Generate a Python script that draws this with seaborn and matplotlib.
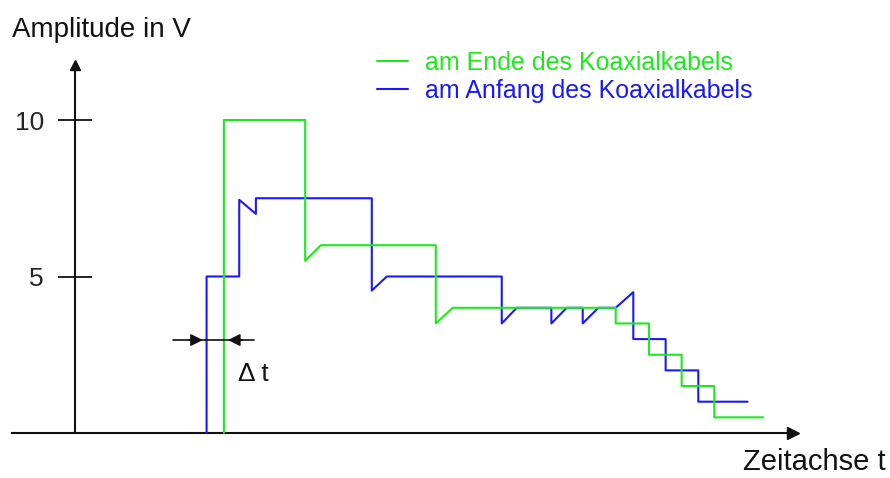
import matplotlib
matplotlib.use("Agg")
import matplotlib.pyplot as plt
import seaborn as sns

# Spannungsverlauf, Zeit in willkuerlichen Einheiten, Spannung in V
t_anfang = [4.03, 4.03, 5.03, 5.03, 5.54, 5.54, 9.09, 9.09, 9.55, 13.07, 13.07, 13.53,
            14.59, 14.59, 15.06, 15.55, 15.55, 16.03, 16.56, 17.10, 17.10, 18.09, 18.09,
            19.09, 19.09, 20.60]
v_anfang = [0.0, 5.0, 5.0, 7.45, 7.0, 7.5, 7.5, 4.55, 5.0, 5.0, 3.5, 4.0,
            4.0, 3.5, 4.0, 4.0, 3.5, 4.0, 4.0, 4.5, 3.0, 3.0, 2.0,
            2.0, 1.0, 1.0]

t_ende = [4.56, 4.56, 7.05, 7.05, 7.53, 11.05, 11.05, 11.57, 16.56, 16.56, 17.58, 17.58,
          18.58, 18.58, 19.58, 19.58, 21.08]
v_ende = [0.0, 10.0, 10.0, 5.5, 6.0, 6.0, 3.5, 4.0, 4.0, 3.5, 3.5, 2.5,
          2.5, 1.5, 1.5, 0.5, 0.5]

y_ticks = [5, 10]
y_ticklabels = ["5", "10"]
label_ende = "am Ende des Koaxialkabels"
label_anfang = "am Anfang des Koaxialkabels"

green = "#1ee81e"
blue = "#1a1af5"

sns.set_theme(style="white")
plt.rcParams["font.family"] = ["Liberation Sans", "DejaVu Sans"]

fig = plt.figure(figsize=(8.9, 4.78), dpi=100)
ax = fig.add_axes([0, 0, 1, 1])

# blue first, green on top
sns.lineplot(x=t_anfang, y=v_anfang, sort=False, estimator=None, color=blue, lw=1.5,
             ax=ax, label=label_anfang)
sns.lineplot(x=t_ende, y=v_ende, sort=False, estimator=None, color=green, lw=1.5,
             ax=ax, label=label_ende)

ax.set_xlim(-75 / 32.65, 815 / 32.65)
ax.set_ylim(-45 / 31.3, 433 / 31.3)

# axes through the origin with arrows
for side in ["top", "right"]:
    ax.spines[side].set_visible(False)
ax.spines["left"].set_position(("data", 0))
ax.spines["bottom"].set_position(("data", 0))
ax.spines["left"].set_bounds(0, 11.6)
ax.spines["bottom"].set_bounds(-1.93, 21.8)
for side in ["left", "bottom"]:
    ax.spines[side].set_color("#111111")
    ax.spines[side].set_linewidth(1.5)
    ax.spines[side].set_zorder(1)
ax.plot(22.0, 0, marker=">", color="#111111", ms=9, clip_on=False)
ax.plot(0, 11.75, marker="^", color="#111111", ms=7, clip_on=False)

ax.set_xticks([])
ax.set_yticks(y_ticks)
ax.set_yticklabels(y_ticklabels)
ax.tick_params(axis="y", direction="inout", length=23.8, width=1.3, color="#111111",
               labelsize=19, pad=10.4, left=True)
ax.grid(False)

# Delta t
ax.plot([3.0, 5.48], [2.97, 2.97], color="#111111", lw=1.2)
ax.annotate("", xy=(4.0, 2.97), xytext=(3.4, 2.97),
            arrowprops=dict(arrowstyle="-|>", color="#111111", lw=1.2, mutation_scale=18))
ax.annotate("", xy=(4.6, 2.97), xytext=(5.2, 2.97),
            arrowprops=dict(arrowstyle="-|>", color="#111111", lw=1.2, mutation_scale=18))
ax.text(4.99, 1.88, "\u0394 t", fontsize=19, va="center", ha="left", color="#111111")

h, l = ax.get_legend_handles_labels()
leg = ax.legend(h[::-1], l[::-1], loc="upper left", bbox_to_anchor=(364 / 890, 1 - 38 / 478),
                frameon=False, fontsize=18, handlelength=1.25, handletextpad=0.7,
                labelspacing=0.18, borderpad=0, labelcolor="linecolor")

fig.text(12 / 890, 1 - 30 / 478, "Amplitude in V", fontsize=20, va="center", ha="left",
         color="#111111")
fig.text(886 / 890, 1 - 470 / 478, "Zeitachse t", fontsize=21, va="baseline", ha="right",
         color="#111111")

fig.savefig("out.png", dpi=100)
